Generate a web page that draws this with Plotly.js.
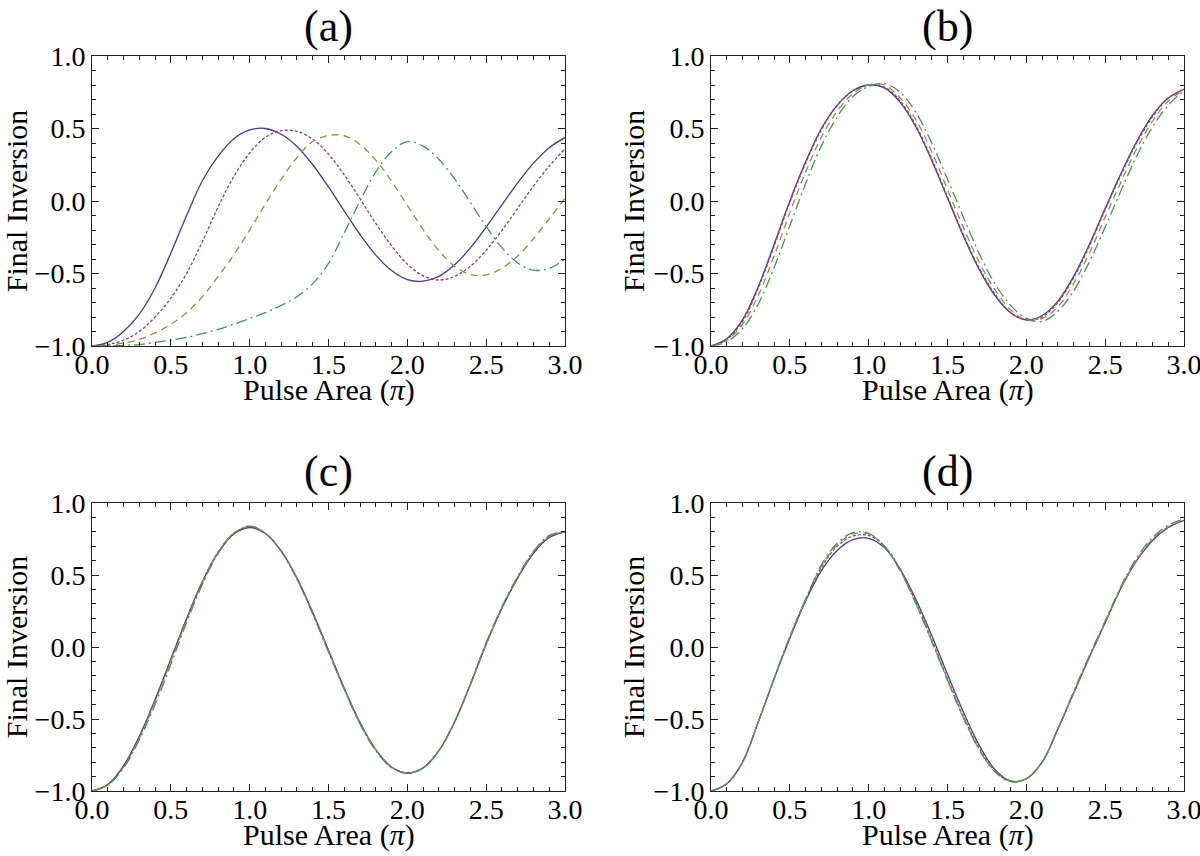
<!DOCTYPE html>
<html>
<head>
<meta charset="utf-8">
<script src="https://cdn.plot.ly/plotly-3.0.1.min.js"></script>
<style>html,body{margin:0;padding:0;background:#fff;}#chart{width:1200px;height:856px;}</style>
</head>
<body>
<div id="chart"></div>
<script>
// Pulse area (units of pi)
const pulseArea = [0.0,0.1,0.2,0.3,0.4,0.5,0.6,0.7,0.8,0.9,1.0,1.1,1.2,1.3,1.4,1.5,1.6,1.7,1.8,1.9,2.0,2.1,2.2,2.3,2.4,2.5,2.6,2.7,2.8,2.9,3.0];

// Panel (a)
const aSolid   = [-1.00,-0.975,-0.90,-0.78,-0.60,-0.36,-0.10,0.14,0.31,0.43,0.49,0.50,0.46,0.376,0.25,0.097,-0.069,-0.231,-0.373,-0.48,-0.542,-0.553,-0.52,-0.44,-0.323,-0.18,-0.027,0.125,0.261,0.368,0.437];
const aDotted  = [-1.00,-0.99,-0.96,-0.90,-0.80,-0.67,-0.50,-0.28,-0.04,0.17,0.33,0.44,0.485,0.48,0.427,0.323,0.18,0.016,-0.154,-0.309,-0.435,-0.516,-0.545,-0.52,-0.45,-0.34,-0.203,-0.05,0.103,0.241,0.36];
const aDashed  = [-1.00,-0.995,-0.98,-0.955,-0.91,-0.85,-0.77,-0.66,-0.52,-0.37,-0.20,-0.02,0.15,0.30,0.41,0.452,0.45,0.39,0.282,0.136,-0.03,-0.196,-0.342,-0.45,-0.508,-0.51,-0.464,-0.379,-0.261,-0.123,0.02];
const aDashDot = [-1.00,-1.00,-0.995,-0.99,-0.975,-0.96,-0.94,-0.915,-0.885,-0.85,-0.81,-0.77,-0.72,-0.66,-0.57,-0.43,-0.22,0.00,0.20,0.34,0.41,0.378,0.288,0.153,-0.01,-0.176,-0.322,-0.427,-0.477,-0.465,-0.40];

// Panel (b)
const bSolid   = [-1.00,-0.95,-0.82,-0.59,-0.30,0.00,0.27,0.50,0.66,0.76,0.80,0.78,0.68,0.51,0.28,0.02,-0.24,-0.47,-0.65,-0.77,-0.82,-0.79,-0.69,-0.52,-0.30,-0.05,0.19,0.41,0.59,0.71,0.77];
const bDotted  = [-1.00,-0.955,-0.83,-0.60,-0.31,-0.01,0.26,0.49,0.66,0.76,0.80,0.785,0.69,0.52,0.29,0.03,-0.23,-0.46,-0.64,-0.77,-0.82,-0.80,-0.70,-0.53,-0.31,-0.06,0.18,0.40,0.58,0.71,0.77];
const bDashed  = [-1.00,-0.96,-0.85,-0.65,-0.38,-0.08,0.20,0.44,0.62,0.74,0.80,0.80,0.71,0.56,0.34,0.08,-0.18,-0.42,-0.61,-0.75,-0.82,-0.81,-0.73,-0.57,-0.36,-0.11,0.13,0.36,0.55,0.69,0.765];
const bDashDot = [-1.00,-0.97,-0.88,-0.71,-0.46,-0.17,0.12,0.38,0.58,0.72,0.79,0.81,0.75,0.61,0.40,0.15,-0.11,-0.36,-0.57,-0.72,-0.81,-0.83,-0.76,-0.62,-0.42,-0.18,0.07,0.31,0.51,0.66,0.76];

// Panel (c)
const cSolid   = [-1.00,-0.955,-0.825,-0.62,-0.365,-0.085,0.198,0.453,0.655,0.785,0.83,0.788,0.667,0.479,0.241,-0.022,-0.286,-0.524,-0.712,-0.833,-0.875,-0.839,-0.72,-0.52,-0.26,0.02,0.27,0.48,0.65,0.76,0.80];
const cDotted  = [-1.00,-0.955,-0.83,-0.625,-0.37,-0.09,0.195,0.455,0.66,0.79,0.835,0.79,0.665,0.475,0.235,-0.03,-0.29,-0.53,-0.715,-0.835,-0.875,-0.84,-0.72,-0.52,-0.26,0.02,0.27,0.48,0.655,0.765,0.80];
const cDashed  = [-1.00,-0.96,-0.835,-0.635,-0.38,-0.10,0.185,0.445,0.655,0.79,0.838,0.79,0.665,0.475,0.235,-0.03,-0.29,-0.53,-0.715,-0.835,-0.875,-0.84,-0.72,-0.52,-0.26,0.02,0.275,0.485,0.66,0.77,0.80];
const cDashDot = [-1.00,-0.96,-0.84,-0.645,-0.40,-0.12,0.17,0.435,0.65,0.79,0.84,0.79,0.665,0.47,0.23,-0.035,-0.295,-0.535,-0.72,-0.838,-0.878,-0.84,-0.72,-0.52,-0.255,0.03,0.28,0.49,0.665,0.775,0.80];

// Panel (d)
const dSolid   = [-1.00,-0.95,-0.80,-0.52,-0.22,0.06,0.32,0.53,0.67,0.745,0.755,0.69,0.54,0.33,0.08,-0.19,-0.45,-0.68,-0.85,-0.93,-0.915,-0.80,-0.57,-0.32,-0.07,0.17,0.41,0.60,0.74,0.83,0.88];
const dDotted  = [-1.00,-0.95,-0.80,-0.52,-0.22,0.07,0.33,0.55,0.70,0.77,0.775,0.70,0.54,0.31,0.05,-0.22,-0.48,-0.70,-0.86,-0.932,-0.915,-0.80,-0.57,-0.32,-0.07,0.17,0.41,0.60,0.74,0.83,0.88];
const dDashed  = [-1.00,-0.95,-0.80,-0.52,-0.22,0.07,0.33,0.56,0.71,0.785,0.785,0.70,0.53,0.30,0.04,-0.23,-0.49,-0.71,-0.865,-0.933,-0.915,-0.80,-0.57,-0.32,-0.07,0.17,0.41,0.605,0.75,0.835,0.882];
const dDashDot = [-1.00,-0.95,-0.80,-0.52,-0.22,0.07,0.33,0.57,0.72,0.795,0.79,0.70,0.53,0.30,0.04,-0.23,-0.49,-0.71,-0.865,-0.935,-0.915,-0.80,-0.57,-0.31,-0.06,0.18,0.42,0.62,0.76,0.845,0.89];

const panelLabels = ['(a)','(b)','(c)','(d)'];
const xTitle = 'Pulse Area (<i>π</i>)';
const yTitle = 'Final Inversion';

const panels = [
  [aSolid, aDotted, aDashed, aDashDot],
  [bSolid, bDotted, bDashed, bDashDot],
  [cSolid, cDotted, cDashed, cDashDot],
  [dSolid, dDotted, dDashed, dDashDot]
];

const styles = [
  {color:'#3d3d99', dash:'solid'},
  {color:'#993d71', dash:'3px,2px'},
  {color:'#998b3d', dash:'7px,5px'},
  {color:'#3d9954', dash:'11px,4px,2px,4px'}
];

const FONT = '"Liberation Serif", "Times New Roman", serif';
const traces = [];
panels.forEach((series, p) => {
  const suffix = p === 0 ? '' : String(p + 1);
  series.forEach((ys, k) => {
    traces.push({
      x: pulseArea, y: ys, type: 'scatter', mode: 'lines',
      xaxis: 'x' + suffix, yaxis: 'y' + suffix,
      line: {color: styles[k].color, dash: styles[k].dash, width: 1.3, shape: 'spline', smoothing: 1},
      showlegend: false, hoverinfo: 'skip'
    });
  });
});

const xDomains = [[92/1200, 565/1200], [711/1200, 1184/1200]];
const yDomains = [[1 - 346/856, 1 - 56/856], [1 - 791/856, 1 - 503/856]];

function common() {
  return {
    ticks: 'inside', ticklen: 7, tickwidth: 1, tickcolor: '#222',
    showline: true, linecolor: '#222', linewidth: 1, mirror: 'ticks',
    showgrid: false, zeroline: false, automargin: false, fixedrange: true,
    ticklabeloverflow: 'allow',
    minor: {ticks: 'inside', dtick: 0.1, tick0: 0, ticklen: 4, tickwidth: 1, tickcolor: '#222', showgrid: false},
    tickfont: {family: FONT, size: 28, color: '#000'}
  };
}
function xAxis(domain, anchor) {
  return Object.assign(common(), {
    domain: domain, anchor: anchor, range: [0, 3], tick0: 0, dtick: 0.5, tickformat: '.1f',
    ticklabelstandoff: -7
  });
}
function yAxis(domain, anchor) {
  return Object.assign(common(), {
    domain: domain, anchor: anchor, range: [-1, 1], tick0: -1, dtick: 0.5, tickformat: '.1f',
    title: {text: yTitle, font: {family: FONT, size: 30, color: '#000'}, standoff: 0}
  });
}

const annotations = [];
panelLabels.forEach((t, i) => {
  const xd = xDomains[i % 2];
  const cx = (xd[0] + xd[1]) / 2;
  annotations.push({
    text: t, showarrow: false, xref: 'paper', yref: 'paper',
    x: cx, y: i < 2 ? 1 - 27/856 : 1 - 471/856,
    xanchor: 'center', yanchor: 'middle',
    font: {family: FONT, size: 44, color: '#000'}
  });
  annotations.push({
    text: xTitle, showarrow: false, xref: 'paper', yref: 'paper',
    x: cx, y: i < 2 ? 1 - 390/856 : 1 - 835/856,
    xanchor: 'center', yanchor: 'middle',
    font: {family: FONT, size: 30, color: '#000'}
  });
});

const layout = {
  width: 1200, height: 856,
  margin: {l: 0, r: 0, t: 0, b: 0},
  paper_bgcolor: '#fff', plot_bgcolor: '#fff',
  showlegend: false,
  xaxis:  xAxis(xDomains[0], 'y'),  yaxis:  yAxis(yDomains[0], 'x'),
  xaxis2: xAxis(xDomains[1], 'y2'), yaxis2: yAxis(yDomains[0], 'x2'),
  xaxis3: xAxis(xDomains[0], 'y3'), yaxis3: yAxis(yDomains[1], 'x3'),
  xaxis4: xAxis(xDomains[1], 'y4'), yaxis4: yAxis(yDomains[1], 'x4'),
  annotations: annotations
};

Plotly.newPlot('chart', traces, layout, {displayModeBar: false, staticPlot: true});
</script>
</body>
</html>
